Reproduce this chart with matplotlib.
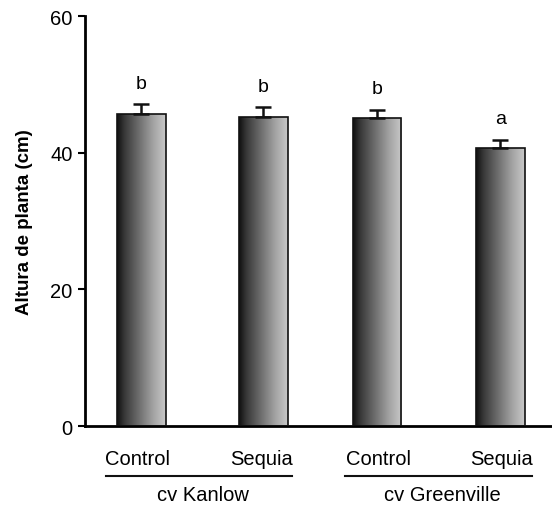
import numpy as np
import matplotlib.pyplot as plt
from matplotlib.colors import LinearSegmentedColormap

plt.rcParams['font.family'] = ['Liberation Sans', 'DejaVu Sans']

categories = ['Control', 'Sequia', 'Control', 'Sequia']
groups = ['cv Kanlow', 'cv Greenville']
altura = [45.7, 45.3, 45.1, 40.7]
error = [1.4, 1.4, 1.2, 1.2]
letras = ['b', 'b', 'b', 'a']

# bar centres (slightly tighter gap inside each cultivar pair)
pos = np.array([0.0, 1.0, 1.93, 2.94])
width = 0.40

fig = plt.figure(figsize=(5.52, 5.06), dpi=100)
ax = fig.add_axes([0.154, 0.156, 0.846, 0.81])

# shaded fill: dark on the left, lighter towards the right
shade = LinearSegmentedColormap.from_list(
    'shade', [(0.0, '#101010'), (0.15, '#383838'), (0.45, '#6e6e6e'),
              (0.75, '#a4a4a4'), (1.0, '#c8c8c8')])
grad = np.linspace(0, 1, 200).reshape(1, -1)

bars = ax.bar(pos, altura, width=width, color='none', edgecolor='#111111',
              linewidth=1.2, zorder=3)
for b in bars:
    x0, w, h = b.get_x(), b.get_width(), b.get_height()
    im = ax.imshow(grad, cmap=shade, aspect='auto', extent=[x0, x0 + w, 0, h],
                   zorder=2, interpolation='bicubic')
    im.set_clip_path(b)

ax.errorbar(pos, altura, yerr=[np.zeros(4), error], fmt='none',
            ecolor='#111111', elinewidth=1.8, capsize=6, capthick=1.8, zorder=4)

for x, y, e, t in zip(pos, altura, error, letras):
    ax.text(x, y + e + 2.4, t, ha='center', va='baseline', fontsize=14)

ax.set_xlim(-0.463, 3.365)
ax.set_ylim(0, 60)
ax.set_yticks([0, 20, 40, 60])
ax.tick_params(axis='y', labelsize=14.5, length=5, width=1.5, direction='out', pad=4)
ax.set_xticks([])
ax.spines['top'].set_visible(False)
ax.spines['right'].set_visible(False)
ax.spines['left'].set_linewidth(2)
ax.spines['bottom'].set_linewidth(2)
ax.set_ylabel('Altura de planta (cm)', fontsize=13.5, fontweight='bold', labelpad=12)

# treatment labels, cultivar underlines and names below the axis
trans = ax.get_xaxis_transform()
label_x = [-0.03, 0.98, 1.94, 2.95]
for x, t in zip(label_x, categories):
    ax.text(x, -0.093, t, transform=trans, ha='center', va='baseline', fontsize=14.5)
for (x0, x1), g in zip([(-0.29, 1.23), (1.67, 3.20)], groups):
    ax.plot([x0, x1], [-0.122, -0.122], transform=trans, color='#111111',
            linewidth=1.5, clip_on=False)
    ax.text((x0 + x1) / 2 + 0.03, -0.166, g, transform=trans, ha='center',
            va='center', fontsize=14.5)

fig.savefig('out.png', dpi=100)
